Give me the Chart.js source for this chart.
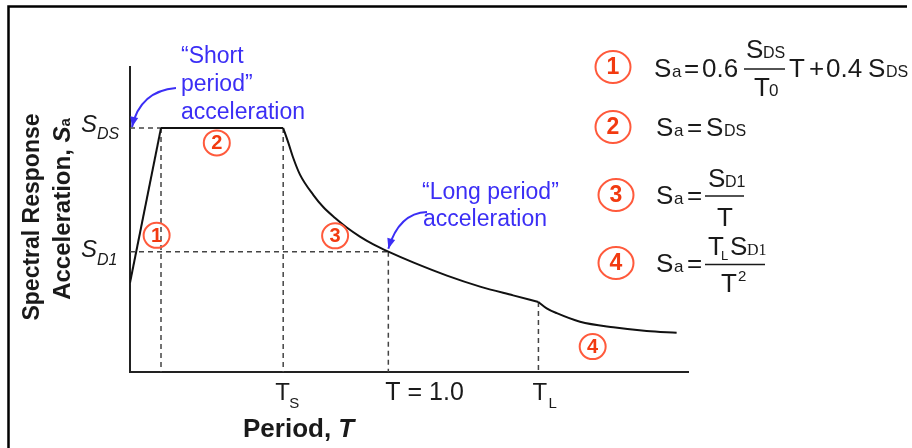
<!DOCTYPE html>
<html>
<head>
<meta charset="utf-8">
<title>Design response spectrum</title>
<script src="https://cdn.jsdelivr.net/npm/chart.js@4.4.1/dist/chart.umd.min.js"></script>
<style>
  html, body { margin: 0; padding: 0; background: #fff; }
  canvas { display: block; }
</style>
</head>
<body>
<canvas id="spectrum" width="912" height="448"></canvas>
<script>
// key periods and spectral levels (Sa normalised so SDS = 1)
const T0 = 0.12, TS = 0.593, T1 = 1.0, TL = 1.581;
const SDS = 1.0, SD1 = 0.493, SA0 = 0.366;

// region 3, Sa = SD1 / T
const velT  = [0.593, 0.613, 0.632, 0.658, 0.710, 0.748, 0.794, 0.839, 0.890, 0.942, 1.0, 1.096, 1.227, 1.355, 1.483, 1.581];
const velSa = [1.0, 0.939, 0.877, 0.809, 0.725, 0.676, 0.631, 0.592, 0.555, 0.523, 0.493, 0.449, 0.395, 0.350, 0.314, 0.287];

// region 4, Sa = TL SD1 / T^2
const dispT  = [1.581, 1.613, 1.652, 1.742, 1.871, 2.0, 2.116];
const dispSa = [0.287, 0.261, 0.241, 0.206, 0.183, 0.168, 0.161];

const xMax = 2.16, yMax = 1.25;

const FONT = '"Liberation Sans", Arial, sans-serif';
const BLUE = '#3b2ef5';
const INK = '#1a1a1a';

const pts = (xs, ys) => xs.map((v, i) => ({ x: v, y: ys[i] }));

function solid(data, curved) {
    return {
        data: data,
        borderColor: '#111',
        borderWidth: 2,
        pointRadius: 0,
        fill: false,
        tension: 0,
        cubicInterpolationMode: curved ? 'monotone' : 'default'
    };
}

function dashed(data) {
    return {
        data: data,
        borderColor: '#444',
        borderWidth: 1.5,
        borderDash: [5, 4],
        pointRadius: 0,
        fill: false
    };
}

const datasets = [
    solid([{ x: 0, y: SA0 }, { x: T0, y: SDS }], false),
    solid([{ x: T0, y: SDS }, { x: TS, y: SDS }], false),
    solid(pts(velT, velSa), true),
    solid(pts(dispT, dispSa), true),
    dashed([{ x: 0, y: SDS }, { x: T0, y: SDS }]),
    dashed([{ x: 0, y: SD1 }, { x: T1, y: SD1 }]),
    dashed([{ x: T0, y: SDS }, { x: T0, y: 0 }]),
    dashed([{ x: TS, y: SDS }, { x: TS, y: 0 }]),
    dashed([{ x: T1, y: SD1 }, { x: T1, y: 0 }]),
    dashed([{ x: TL, y: velSa[velSa.length - 1] }, { x: TL, y: 0 }])
];

function put(ctx, s, px, py, font, color, align) {
    ctx.font = font;
    ctx.fillStyle = color || INK;
    ctx.textAlign = align || 'left';
    ctx.textBaseline = 'alphabetic';
    ctx.fillText(s, px, py);
}

function badge(ctx, cx, cy, rx, ry, n, size) {
    ctx.save();
    ctx.strokeStyle = '#ff5a3c';
    ctx.lineWidth = 2;
    ctx.beginPath();
    ctx.ellipse(cx, cy, rx, ry, 0, 0, 2 * Math.PI);
    ctx.stroke();
    ctx.fillStyle = '#f23a10';
    ctx.font = 'bold ' + size + 'px ' + FONT;
    ctx.textAlign = 'center';
    ctx.textBaseline = 'middle';
    ctx.fillText(n, cx, cy + 1);
    ctx.restore();
}

function arrow(ctx, x0, y0, cx, cy, x1, y1) {
    ctx.save();
    ctx.strokeStyle = BLUE;
    ctx.fillStyle = BLUE;
    ctx.lineWidth = 2;
    ctx.beginPath();
    ctx.moveTo(x0, y0);
    ctx.quadraticCurveTo(cx, cy, x1, y1);
    ctx.stroke();
    const a = Math.atan2(y1 - cy, x1 - cx);
    ctx.beginPath();
    ctx.moveTo(x1, y1);
    ctx.lineTo(x1 - 11 * Math.cos(a - 0.38), y1 - 11 * Math.sin(a - 0.38));
    ctx.lineTo(x1 - 11 * Math.cos(a + 0.38), y1 - 11 * Math.sin(a + 0.38));
    ctx.closePath();
    ctx.fill();
    ctx.restore();
}

function bar(ctx, xa, xb, yy) {
    ctx.save();
    ctx.strokeStyle = INK;
    ctx.lineWidth = 1.5;
    ctx.beginPath();
    ctx.moveTo(xa, yy);
    ctx.lineTo(xb, yy);
    ctx.stroke();
    ctx.restore();
}

const decor = {
    id: 'decor',
    afterDraw(chart) {
        const ctx = chart.ctx;
        const xs = chart.scales.x, ys = chart.scales.y;
        const px = v => xs.getPixelForValue(v);
        const py = v => ys.getPixelForValue(v);
        const big = n => n + 'px ' + FONT;

        ctx.save();

        // outer frame
        ctx.strokeStyle = '#000';
        ctx.lineWidth = 2.5;
        ctx.beginPath();
        ctx.moveTo(8.5, 448);
        ctx.lineTo(8.5, 6.5);
        ctx.lineTo(907, 6.5);
        ctx.stroke();

        // y level labels
        put(ctx, 'S', 81, py(SDS) + 4, 'italic ' + big(24));
        put(ctx, 'DS', 97, py(SDS) + 11, 'italic ' + big(16));
        put(ctx, 'S', 81, py(SD1) + 5, 'italic ' + big(24));
        put(ctx, 'D1', 97, py(SD1) + 13, 'italic ' + big(16));

        // period labels
        const yb = ys.bottom;
        put(ctx, 'T', px(TS) - 8, yb + 28, big(24));
        put(ctx, 'S', px(TS) + 6, yb + 36, big(15));
        put(ctx, 'T = 1.0', px(T1) - 3, yb + 28, big(25));
        put(ctx, 'T', px(TL) - 6, yb + 28, big(24));
        put(ctx, 'L', px(TL) + 10, yb + 36, big(15));

        // axis titles
        put(ctx, 'Period, ', 243, 437, 'bold ' + big(26));
        ctx.font = 'bold ' + big(26);
        const wP = ctx.measureText('Period, ').width;
        put(ctx, 'T', 243 + wP, 437, 'italic bold ' + big(26));

        ctx.save();
        ctx.translate(39, 217);
        ctx.rotate(-Math.PI / 2);
        put(ctx, 'Spectral Response', 0, 0, 'bold ' + big(23), INK, 'center');
        ctx.restore();

        ctx.save();
        ctx.translate(70, 209);
        ctx.rotate(-Math.PI / 2);
        ctx.font = 'bold ' + big(24);
        const w1 = ctx.measureText('Acceleration, ').width;
        ctx.font = 'italic bold ' + big(24);
        const w2 = ctx.measureText('S').width;
        ctx.font = 'bold ' + big(15);
        const w3 = ctx.measureText('a').width;
        let sx = -(w1 + w2 + w3) / 2;
        put(ctx, 'Acceleration, ', sx, 0, 'bold ' + big(24));
        put(ctx, 'S', sx + w1, 0, 'italic bold ' + big(24));
        put(ctx, 'a', sx + w1 + w2, 0, 'bold ' + big(15));
        ctx.restore();

        // callouts
        put(ctx, '\u201cShort', 181, 63, big(23), BLUE);
        put(ctx, 'period\u201d', 181, 91, big(23), BLUE);
        put(ctx, 'acceleration', 181, 119, big(23), BLUE);
        arrow(ctx, 176, 88, 140, 91, px(0) + 2, py(SDS) - 1);

        put(ctx, '\u201cLong period\u201d', 422, 199, big(23), BLUE);
        put(ctx, 'acceleration', 423, 226, big(23), BLUE);
        arrow(ctx, 427, 212, 399, 213, px(T1), py(SD1) - 3);

        // region numbers on the curve
        badge(ctx, px(0.103), py(0.56), 13, 12.5, '1', 20);
        badge(ctx, px(0.336), py(0.939), 13, 12.5, '2', 20);
        badge(ctx, px(0.794), py(0.558), 13, 12.5, '3', 20);
        badge(ctx, px(1.791), py(0.104), 13, 12.5, '4', 20);

        // equations
        badge(ctx, 613, 67, 17.5, 16, '1', 23);
        badge(ctx, 613, 127, 17.5, 16, '2', 23);
        badge(ctx, 616, 195, 17.5, 16, '3', 23);
        badge(ctx, 616, 263, 17.5, 16, '4', 23);

        // 1
        put(ctx, 'S', 654, 77, big(26));
        put(ctx, 'a', 672, 77, big(17));
        put(ctx, '=', 684, 77, big(26));
        put(ctx, '0.6', 702, 77, big(26));
        bar(ctx, 744, 785, 69);
        put(ctx, 'S', 746, 58, big(26));
        put(ctx, 'DS', 763, 58, big(16));
        put(ctx, 'T', 754, 96, big(26));
        put(ctx, '0', 769, 96, big(17));
        put(ctx, 'T', 789, 77, big(26));
        put(ctx, '+', 809, 77, big(26));
        put(ctx, '0.4', 826, 77, big(26));
        put(ctx, 'S', 868, 77, big(26));
        put(ctx, 'DS', 886, 77, big(16));

        // 2
        put(ctx, 'S', 656, 136, big(26));
        put(ctx, 'a', 674, 136, big(17));
        put(ctx, '=', 687, 136, big(26));
        put(ctx, 'S', 706, 136, big(26));
        put(ctx, 'DS', 724, 136, big(16));

        // 3
        put(ctx, 'S', 656, 204, big(26));
        put(ctx, 'a', 674, 204, big(17));
        put(ctx, '=', 687, 204, big(26));
        bar(ctx, 705, 744, 196);
        put(ctx, 'S', 708, 187, big(26));
        put(ctx, 'D1', 725, 187, big(16));
        put(ctx, 'T', 725, 226, big(26), INK, 'center');

        // 4
        put(ctx, 'S', 656, 272, big(26));
        put(ctx, 'a', 674, 272, big(17));
        put(ctx, '=', 687, 272, big(26));
        bar(ctx, 705, 765, 264.5);
        put(ctx, 'T', 708, 255, big(26));
        put(ctx, 'L', 721, 260, big(13));
        put(ctx, 'S', 730, 255, big(26));
        put(ctx, 'D1', 747, 255, '16px "Liberation Serif", serif');
        put(ctx, 'T', 721, 292, big(26));
        put(ctx, '2', 738, 281, big(15));

        ctx.restore();
    }
};

new Chart(document.getElementById('spectrum'), {
    type: 'line',
    data: { datasets: datasets },
    options: {
        responsive: false,
        animation: false,
        devicePixelRatio: 1,
        layout: { padding: { left: 130, right: 224, top: 67, bottom: 76 } },
        plugins: { legend: { display: false }, tooltip: { enabled: false } },
        scales: {
            x: {
                type: 'linear', min: 0, max: xMax,
                grid: { display: false },
                ticks: { display: false },
                border: { display: true, color: '#222', width: 2 },
                afterFit(s) { s.height = 0; }
            },
            y: {
                type: 'linear', min: 0, max: yMax,
                grid: { display: false },
                ticks: { display: false },
                border: { display: true, color: '#222', width: 2 },
                afterFit(s) { s.width = 0; }
            }
        }
    },
    plugins: [decor]
});
</script>
</body>
</html>
